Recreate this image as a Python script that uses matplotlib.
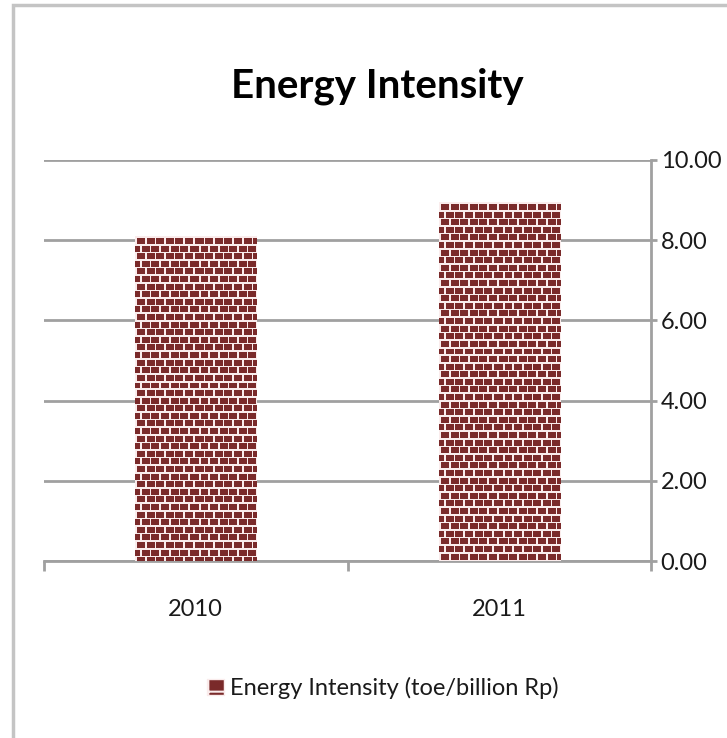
import numpy as np
import matplotlib
matplotlib.use("Agg")
import matplotlib.pyplot as plt
from matplotlib.patches import Rectangle, Patch

plt.rcParams['font.family'] = ['Lato', 'DejaVu Sans']

years = ['2010', '2011']
intensity = [8.1, 8.95]
series_name = 'Energy Intensity (toe/billion Rp)'
title = 'Energy Intensity'
yticks = [0, 2, 4, 6, 8, 10]

brick = np.array([122, 42, 42]) / 255.0
mortar = np.array([250, 236, 236]) / 255.0
grid_col = '#a0a0a0'
txt_col = '#1a1a1a'


def brick_texture(w, h, bw=9.6, bh=7.6, lw=1.6):
    # one pixel per cell, staggered rows like a brick wall
    yy, xx = np.mgrid[0:h, 0:w].astype(float)
    row = np.floor(yy / bh)
    ymod = yy - row * bh
    xs = xx + (row % 2) * bw / 2
    xmod = xs - np.floor(xs / bw) * bw
    is_mortar = (ymod < lw) | (xmod < lw)
    img = np.where(is_mortar[..., None], mortar, brick)
    return img


fig = plt.figure(figsize=(7.27, 7.38), dpi=100)
ax = fig.add_axes([44 / 727, 1 - 561 / 738, (651 - 44) / 727, (561 - 160) / 738])

x = np.arange(len(years))
bars = ax.bar(x, intensity, width=0.4, color=brick, zorder=2)
ax.set_xlim(-0.5, len(years) - 0.5)
ax.set_ylim(0, 10)

# fill bars with brick texture
for b in bars:
    x0, y0 = b.get_x(), b.get_y()
    x1, y1 = x0 + b.get_width(), y0 + b.get_height()
    p0 = ax.transData.transform((x0, y0))
    p1 = ax.transData.transform((x1, y1))
    w = int(round(p1[0] - p0[0]))
    h = int(round(p1[1] - p0[1]))
    tex = brick_texture(w, h)
    im = ax.imshow(tex, extent=(x0, x1, y0, y1), origin='upper',
                   aspect='auto', interpolation='nearest', zorder=3)
    im.set_clip_path(b)

ax.set_aspect('auto')
ax.set_xlim(-0.5, len(years) - 0.5)
ax.set_ylim(0, 10)

ax.yaxis.tick_right()
ax.set_yticks(yticks)
ax.set_yticklabels(['%.2f' % v for v in yticks], fontsize=17, color=txt_col)
ax.tick_params(axis='y', direction='out', length=4, width=2, color=grid_col, pad=3)
ax.grid(axis='y', color=grid_col, linewidth=2, zorder=0)
ax.set_axisbelow(True)

ax.set_xticks(x)
ax.set_xticklabels(years, fontsize=17, color=txt_col)
ax.set_xticks(np.arange(-0.5, len(years)), minor=True)
ax.tick_params(axis='x', which='major', length=0, pad=27)
ax.tick_params(axis='x', which='minor', length=7, width=2, color=grid_col)

for s in ['top', 'left']:
    ax.spines[s].set_visible(False)
ax.spines['right'].set_color(grid_col)
ax.spines['right'].set_linewidth(2)
ax.spines['bottom'].set_color(grid_col)
ax.spines['bottom'].set_linewidth(2)

fig.text(377 / 727, 1 - 86 / 738, title, fontsize=29, fontweight='bold',
         ha='center', va='center', color='black')

plt.rcParams['hatch.linewidth'] = 1.5
handle = Patch(facecolor=brick, edgecolor=mortar, hatch='+')
fig.legend([handle], [series_name], loc='center', bbox_to_anchor=(383 / 727, 1 - 688 / 738),
           frameon=False, fontsize=17, handlelength=0.7, handleheight=0.7,
           handletextpad=0.25, labelcolor=txt_col)

border = Rectangle((13 / 727, -0.2), 1.5, 1 - 5 / 738 + 0.2, transform=fig.transFigure,
                   fill=False, edgecolor='#c4c4c4', linewidth=2.5, clip_on=False)
fig.patches.append(border)

fig.savefig('out.png', dpi=100)
